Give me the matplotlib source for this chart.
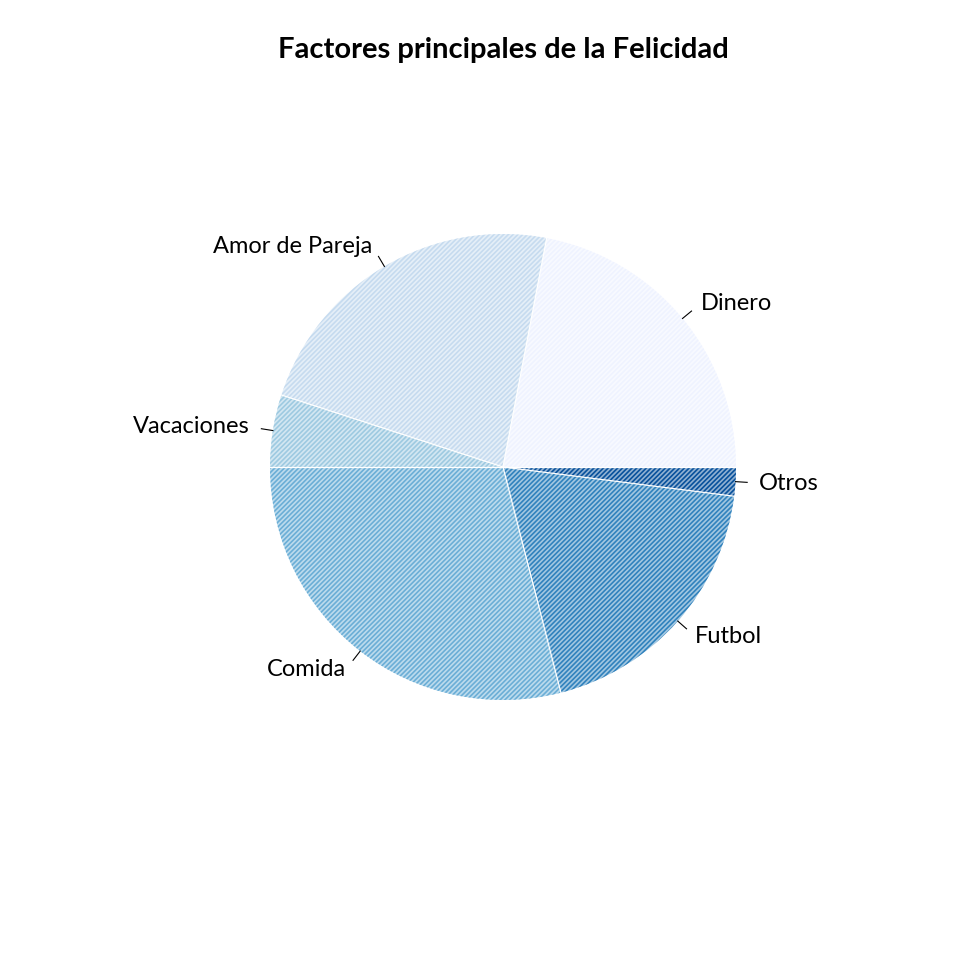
import numpy as np
import matplotlib
matplotlib.use('Agg')
import matplotlib.pyplot as plt
from matplotlib.colors import to_rgb

# datos del grafico
factores = ['Dinero', 'Amor de Pareja', 'Vacaciones', 'Comida', 'Futbol', 'Otros']
valores = [22, 23, 5, 29, 19, 2]
colores = ['#EFF3FF', '#C6DBEF', '#9ECAE1', '#6BAED6', '#3182BD', '#08519C']
titulo = 'Factores principales de la Felicidad'

plt.rcParams['font.family'] = ['Lato', 'DejaVu Sans']
plt.rcParams['hatch.linewidth'] = 1.2

fig = plt.figure(figsize=(9.6, 9.6), dpi=100)
ax = fig.add_axes([0, 0, 1, 1])

# centro y radio del pie en pixeles
cx, cy, r = 503, 493, 233

# fondo aclarado: mezcla del color con blanco
def aclarar(c, f=0.45):
    rgb = np.array(to_rgb(c))
    return tuple(1 - f * (1 - rgb))

fondos = [aclarar(c) for c in colores]

# pie con rayado denso (como density en R)
wedges, _ = ax.pie(valores, colors=fondos, startangle=0,
                   counterclock=True, radius=1, center=(0, 0), frame=True,
                   wedgeprops=dict(linewidth=0))
for w, c in zip(wedges, colores):
    w.set_edgecolor(c)
    w.set_hatch('/' * 7)

# separaciones blancas finas entre porciones
total = sum(valores)
acum = np.cumsum([0] + valores)
for a in acum[:-1]:
    t = 2 * np.pi * a / total
    ax.plot([0, np.cos(t)], [0, np.sin(t)], color='white', lw=0.9)

ax.set_xlim(-cx / r, (960 - cx) / r)
ax.set_ylim(-cy / r, (960 - cy) / r)
ax.axis('off')

# etiquetas estilo R
for i, nombre in enumerate(factores):
    ang = 2 * np.pi * (acum[i] + acum[i + 1]) / 2 / total
    x, y = np.cos(ang), np.sin(ang)
    ax.plot([x, 1.05 * x], [y, 1.05 * y], color='black', lw=0.8)
    ax.text(1.1 * x, 1.1 * y, nombre, fontsize=17,
            ha='left' if x > 0 else 'right', va='center')

fig.text(503 / 960, 1 - 50 / 960, titulo, fontsize=21, fontweight='bold',
         ha='center', va='center')

plt.savefig('out.png', dpi=100)
